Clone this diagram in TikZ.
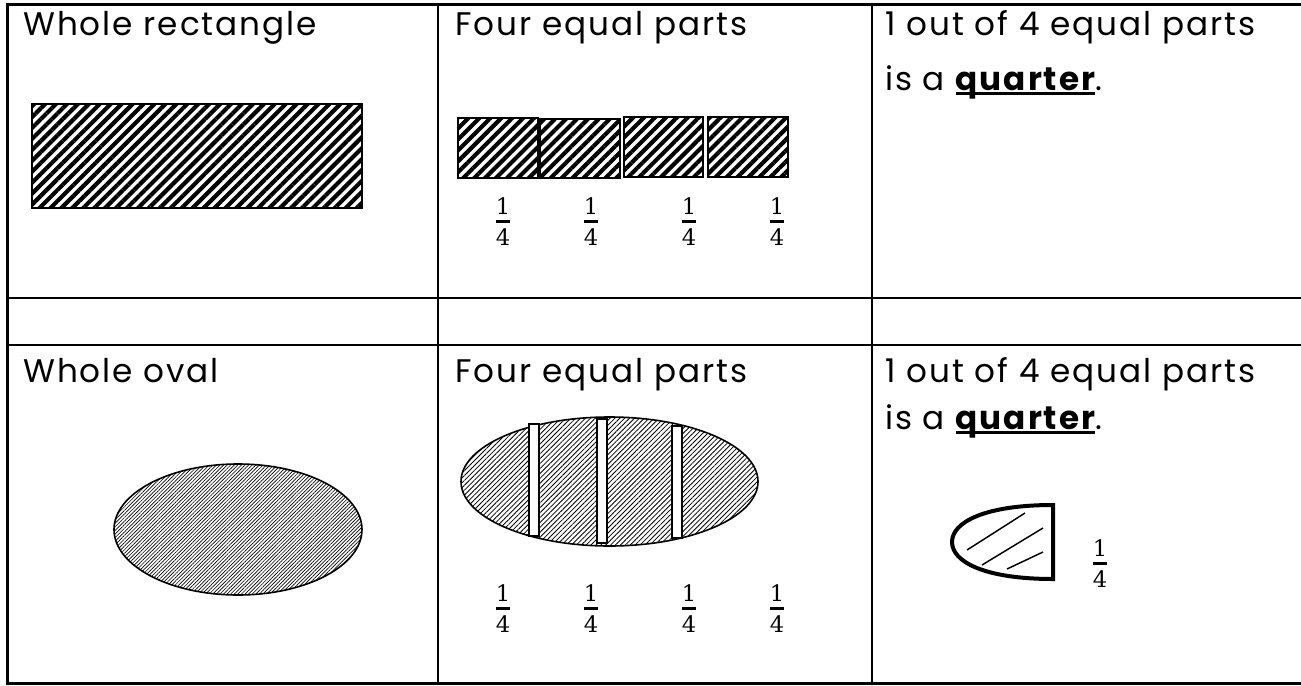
\documentclass[tikz,border=0pt]{standalone}
\usepackage[no-math]{fontspec}
\setmainfont{Poppins}[LetterSpace=6]
\newfontfamily\fracfont{DejaVu Serif}
\usetikzlibrary{patterns.meta}

\newcommand{\onequarter}{\vbox{\offinterlineskip\halign{\hfil##\hfil\cr
  \fracfont 1\cr\noalign{\kern3.6pt}\rule{0.64em}{2.4pt}\cr
  \noalign{\kern4.6pt}\fracfont 4\cr}}}
\newcommand{\boldline}[1]{\setbox0=\hbox{\bfseries #1}\rlap{\rule[-4pt]{\wd0}{2.2pt}}\box0}

\begin{document}
\begin{tikzpicture}[x=0.75pt,y=-0.75pt]
  % Define grid, hatch and text styles
  \tikzstyle{gridline} = [line width=2.2pt, line cap=rect]
  \tikzstyle{barhatch} = [draw, line width=1.6pt,
  pattern={Lines[angle=45,distance=5.8pt,line width=3.1pt]}]
  \tikzstyle{finehatch} = [draw, line width=1.2pt,
  pattern={Lines[angle=45,distance=1.9pt,line width=0.5pt]}]
  \tikzstyle{ovalhatch} = [draw, line width=1.2pt,
  pattern={Lines[angle=45,distance=2.6pt,line width=0.6pt]}]
  \tikzstyle{cutstrip} = [draw, fill=white, line width=1.1pt]
  \tikzstyle{celltext} = [anchor=base west, inner sep=0pt,
  font=\fontsize{24.5}{28}\selectfont]
  \tikzstyle{fracnode} = [inner sep=0pt, font=\fontsize{17}{20}\selectfont]

  \useasboundingbox[fill=white] (0,0) rectangle (1301,685);

  % table grid (open on the right)
  \draw[gridline] (1301,4.5) -- (7.5,4.5) -- (7.5,683.5) -- (1301,683.5);
  \draw[gridline] (7.5,298) -- (1301,298);
  \draw[gridline] (7.5,345) -- (1301,345);
  \draw[gridline] (438,4.5) -- (438,683.5);
  \draw[gridline] (872,4.5) -- (872,683.5);

  % first row
  \node[celltext] (wholerect) at (23,36) {Whole rectangle};
  \node[celltext] (fourrect) at (455,36) {Four equal parts};
  \node[celltext] (quarterA) at (885,36) {1 out of 4 equal parts};
  \node[celltext] (quarterAb) at (885,90) {is a \boldline{quarter}.};

  \draw[barhatch] (32,104) rectangle (362,208);
  \draw[barhatch] (458,118) rectangle (538,178);
  \draw[barhatch] (540,119) rectangle (620,178);
  \draw[barhatch] (624,117) rectangle (703,177);
  \draw[barhatch] (708,117) rectangle (788,177);

  \foreach \x/\n in {503/a, 591/b, 689/c, 777/d}
    \node[fracnode] (rectfrac\n) at (\x,222) {\onequarter};

  % third row
  \node[celltext] (wholeoval) at (23,382) {Whole oval};
  \node[celltext] (fouroval) at (455,382) {Four equal parts};
  \node[celltext] (quarterB) at (885,382) {1 out of 4 equal parts};
  \node[celltext] (quarterBb) at (885,429) {is a \boldline{quarter}.};

  \draw[finehatch] (238,529.5) ellipse (124 and 65.5);
  \draw[ovalhatch] (609.5,481.5) ellipse (148.5 and 64.5);
  \draw[cutstrip] (529,424) rectangle (539,536);
  \draw[cutstrip] (597,419) rectangle (607,543);
  \draw[cutstrip] (672,426) rectangle (682,538);

  \foreach \x/\n in {503/a, 591/b, 689/c, 777/d}
    \node[fracnode] (ovalfrac\n) at (\x,609) {\onequarter};

  % the quarter piece
  \draw[line width=3pt] (1053,505) .. controls (985,505) and (952,522) .. (952,542)
    .. controls (952,562) and (985,579) .. (1053,579) -- cycle;
  \draw[line width=1.1pt] (967,550) -- (1025,513);
  \draw[line width=1.1pt] (982,565) -- (1043,528);
  \draw[line width=1.1pt] (1007,569) -- (1043,552);
  \node[fracnode] (piecefrac) at (1100,564) {\onequarter};
\end{tikzpicture}
\end{document}
